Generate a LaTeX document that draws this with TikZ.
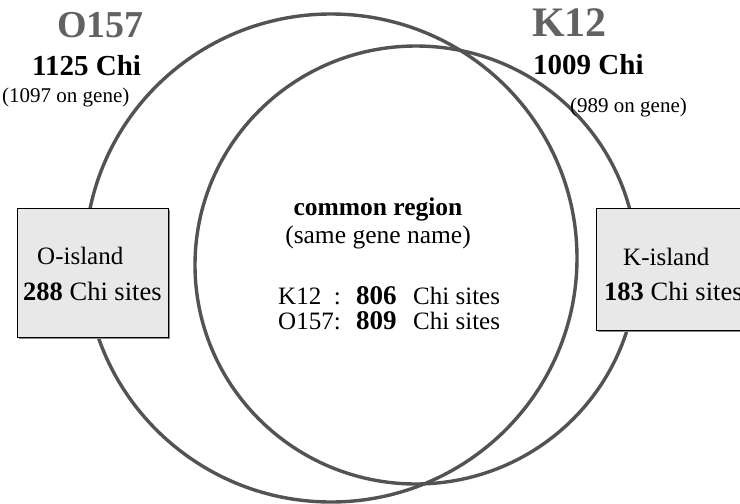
\documentclass[tikz,border=0pt]{standalone}
\usepackage{fontspec}
\setmainfont{Liberation Serif}
\usetikzlibrary{shadows,shapes.geometric}
\definecolor{ringgray}{HTML}{535353}
\definecolor{titlegray}{HTML}{626262}
\definecolor{boxgray}{HTML}{E8E8E8}
\definecolor{shadegray}{HTML}{8A8A8A}
\begin{document}
\begin{tikzpicture}[x=1pt,y=-1pt,
  ring/.style={ellipse, draw=ringgray, line width=3.4pt, inner sep=0pt},
  txt/.style={anchor=base west, inner sep=0pt},
  ctxt/.style={anchor=base, inner sep=0pt},
  islandbox/.style={rectangle, draw=black, line width=0.8pt, fill=boxgray, anchor=north west, inner sep=0pt,
     drop shadow={shadow xshift=1.5pt, shadow yshift=-1.5pt, fill=shadegray, opacity=1}}
]
\useasboundingbox (0,0) rectangle (740,504);
\clip (0,0) rectangle (740,504);
\fill[white] (0,0) rectangle (740,504);
% circles
\node[ring, minimum width=492pt, minimum height=488pt] (oring) at (331,258) {};
\node[ring, minimum width=442pt, minimum height=438pt] (kring) at (416,265) {};
% island boxes
\node[islandbox, minimum width=151pt, minimum height=129pt] (obox) at (17,208) {};
\node[islandbox, minimum width=160pt, minimum height=122pt] (kbox) at (596,208) {};
% titles
\node[txt, text=titlegray, font=\fontsize{38}{40}\selectfont\bfseries] (otitle) at (57,37) {O157};
\node[txt, font=\fontsize{29}{32}\selectfont\bfseries] (ochi) at (32,75) {1125 Chi};
\node[txt, font=\fontsize{21}{24}\selectfont] (ogene) at (2,102) {(1097 on gene)};
\node[txt, text=titlegray, font=\fontsize{42}{44}\selectfont\bfseries] (ktitle) at (532,36) {K12};
\node[txt, font=\fontsize{29}{32}\selectfont\bfseries] (kchi) at (533,74) {1009 Chi};
\node[txt, font=\fontsize{21}{24}\selectfont] (kgene) at (570,112) {(989 on gene)};
% box texts
\node[txt, font=\fontsize{25}{28}\selectfont] (oname) at (37,264) {O-island};
\node[txt, font=\fontsize{26.5}{28}\selectfont] (osites) at (23,300) {\textbf{288} Chi sites};
\node[txt, font=\fontsize{25}{28}\selectfont] (kname) at (623,265) {K-island};
\node[txt, font=\fontsize{26.5}{28}\selectfont] (ksites) at (604,300) {\textbf{183} Chi sites};
% common region
\node[ctxt, font=\fontsize{25.5}{28}\selectfont\bfseries] (common) at (378,215) {common region};
\node[ctxt, font=\fontsize{25.5}{28}\selectfont] (samename) at (378,243) {(same gene name)};
\node[txt, font=\fontsize{25}{28}\selectfont] (klab) at (278,304) {K12\ \ :};
\node[txt, font=\fontsize{27}{28}\selectfont\bfseries] (knum) at (356,304) {806};
\node[txt, font=\fontsize{25}{28}\selectfont] (ksite) at (413,304) {Chi sites};
\node[txt, font=\fontsize{25}{28}\selectfont] (olab) at (278,329) {O157:};
\node[txt, font=\fontsize{27}{28}\selectfont\bfseries] (onum) at (356,329) {809};
\node[txt, font=\fontsize{25}{28}\selectfont] (osite) at (413,329) {Chi sites};
\end{tikzpicture}
\end{document}
